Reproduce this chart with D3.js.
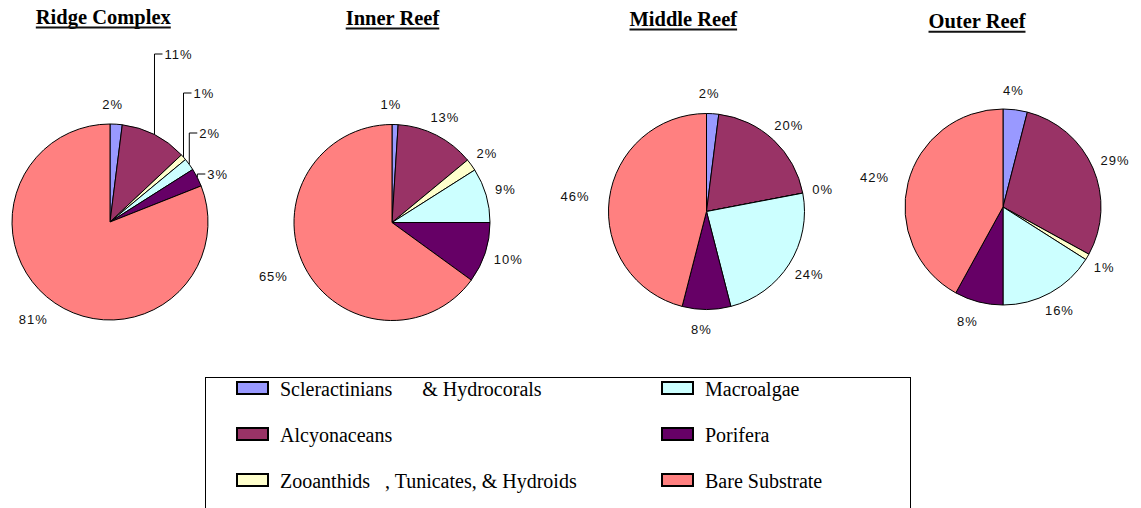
<!DOCTYPE html>
<html>
<head>
<meta charset="utf-8">
<script src="https://cdn.jsdelivr.net/npm/d3@7"></script>
<style>
  body { margin: 0; background: #fff; }
  svg { display: block; }
  .lbl { font-family: "Liberation Sans", Arial, sans-serif; font-size: 13px; letter-spacing: 1px; fill: #111; }
  .ttl { font-family: "Liberation Serif", "Times New Roman", serif; font-size: 20.5px; font-weight: bold; fill: #000; }
  .leg { font-family: "Liberation Serif", "Times New Roman", serif; font-size: 20px; fill: #000; white-space: pre; }
</style>
</head>
<body>
<svg id="chart" width="1141" height="508"></svg>
<script>
// ---------------- DATA ----------------
const sites = ["Ridge Complex", "Inner Reef", "Middle Reef", "Outer Reef"];
const categories = ["Scleractinians & Hydrocorals", "Alcyonaceans", "Zooanthids, Tunicates, & Hydroids", "Macroalgae", "Porifera", "Bare Substrate"];
const legendLabels = ["Scleractinians      & Hydrocorals", "Alcyonaceans", "Zooanthids   , Tunicates, & Hydroids", "Macroalgae", "Porifera", "Bare Substrate"];
const ridgeComplex = [2, 11, 1, 2, 3, 81];
const innerReef    = [1, 13, 2, 9, 10, 65];
const middleReef   = [2, 20, 0, 24, 8, 46];
const outerReef    = [4, 29, 1, 16, 8, 42];
const seriesValues = [ridgeComplex, innerReef, middleReef, outerReef];

// ---------------- STYLE / LAYOUT ----------------
const palette = ["#9999FF", "#993366", "#FFFFCC", "#CCFFFF", "#660066", "#FF8080"];
const pieCenters = [[110, 222], [392, 222.5], [706.5, 211.5], [1003, 207]];
const radius = 98;
const titlePos = [[103.3, 24], [392.5, 25], [683.3, 26], [977, 28.3]];
// Ridge Complex: labels pulled out with elbow leader lines (slice index -> label y)
const ridgeLeaderY = {1: 54, 2: 93, 3: 133, 4: 174};
const labelShiftX = -5;

const svg = d3.select("#chart");
svg.append("rect").attr("width", 1141).attr("height", 508).attr("fill", "#fff");

const color = d3.scaleOrdinal().domain(categories).range(palette);
const pie = d3.pie().sort(null).value(d => d.value);
const arc = d3.arc().innerRadius(0).outerRadius(radius);

seriesValues.forEach((vals, si) => {
  const [cx, cy] = pieCenters[si];
  const g = svg.append("g").attr("transform", `translate(${cx},${cy})`);
  const data = vals.map((v, i) => ({cat: categories[i], value: v}));
  const arcs = pie(data);

  g.selectAll("path.slice").data(arcs).enter().append("path")
    .attr("class", "slice")
    .attr("d", arc)
    .attr("fill", d => color(d.data.cat))
    .attr("stroke", "#000")
    .attr("stroke-width", 1);

  // labels
  arcs.forEach((d, i) => {
    const a = (d.startAngle + d.endAngle) / 2;
    const sx = Math.sin(a), sy = -Math.cos(a);
    const txt = d.data.value + "%";
    if (si === 0 && ridgeLeaderY[i] !== undefined) {
      const px = sx * radius, py = sy * radius;
      const ly = ridgeLeaderY[i] - cy;
      const ex = px + 8;
      g.append("path")
        .attr("d", `M${px},${py}L${px},${ly}L${ex},${ly}`)
        .attr("fill", "none").attr("stroke", "#000").attr("stroke-width", 1);
      g.append("text").attr("class", "lbl")
        .attr("x", ex + 2).attr("y", ly + 4.7)
        .text(txt);
    } else {
      const t = g.append("text").attr("class", "lbl").attr("text-anchor", "middle").text(txt);
      const w = t.node().getComputedTextLength();
      const h = 10, gap = 15;
      const x = sx * (radius + gap) + (w / 2) * sx + labelShiftX;
      const y = sy * (radius + gap) + (h / 2) * sy;
      t.attr("x", x).attr("y", y + 4.7);
    }
  });

  // title
  const [tx, ty] = titlePos[si];
  const tt = svg.append("text").attr("class", "ttl")
    .attr("x", tx).attr("y", ty).attr("text-anchor", "middle").text(sites[si]);
  const tw = tt.node().getComputedTextLength();
  svg.append("line")
    .attr("x1", tx - tw / 2).attr("x2", tx + tw / 2)
    .attr("y1", ty + 3.5).attr("y2", ty + 3.5)
    .attr("stroke", "#111").attr("stroke-width", 2);
});

// ---------------- LEGEND ----------------
const legend = svg.append("g");
legend.append("rect")
  .attr("x", 205.5).attr("y", 377.5).attr("width", 705).attr("height", 140)
  .attr("fill", "none").attr("stroke", "#000").attr("stroke-width", 1);

const colX = [237, 662];
const rowY = [396, 442, 488];
legendLabels.forEach((lab, i) => {
  const col = Math.floor(i / 3), row = i % 3;
  const x = colX[col], y = rowY[row];
  legend.append("rect")
    .attr("x", x).attr("y", y - 14).attr("width", 31).attr("height", 12)
    .attr("fill", color(categories[i])).attr("stroke", "#000").attr("stroke-width", 2);
  legend.append("text").attr("class", "leg")
    .attr("x", x + 43).attr("y", y).text(lab);
});
</script>
</body>
</html>
